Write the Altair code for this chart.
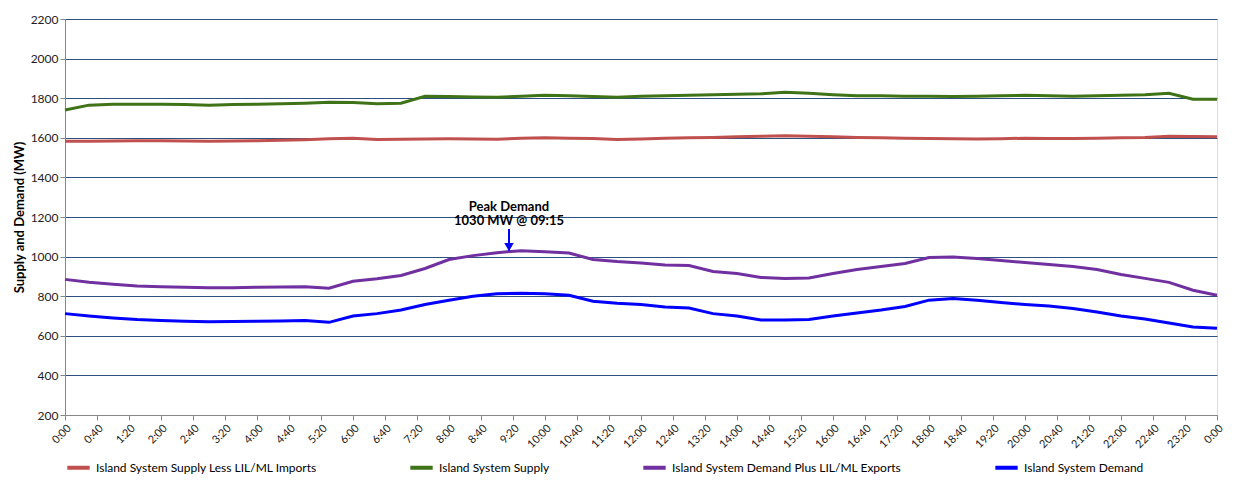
import altair as alt
import pandas as pd

minutes = list(range(0, 1441, 30))

demand = [712, 700, 690, 682, 677, 673, 671, 672, 674, 675, 677, 668, 700, 712, 730, 758,
          780, 800, 812, 815, 812, 805, 775, 765, 758, 745, 740, 712, 700, 680, 680, 682,
          700, 715, 730, 748, 780, 788, 780, 768, 758, 750, 738, 720, 700, 685, 665, 645, 638]
demand_exports = [885, 870, 860, 852, 848, 845, 843, 843, 845, 846, 848, 840, 875, 888, 905, 940,
                  985, 1005, 1020, 1030, 1025, 1018, 985, 975, 968, 958, 955, 925, 915, 895, 890, 892,
                  915, 935, 950, 965, 995, 998, 990, 980, 970, 960, 950, 935, 910, 890, 870, 830, 805]
supply_less = [1582, 1583, 1584, 1585, 1585, 1584, 1583, 1584, 1585, 1587, 1590, 1595, 1598, 1592, 1593, 1594,
               1595, 1594, 1593, 1598, 1600, 1598, 1596, 1592, 1594, 1598, 1600, 1602, 1605, 1608, 1610, 1608,
               1605, 1602, 1600, 1598, 1597, 1595, 1594, 1595, 1598, 1597, 1596, 1598, 1600, 1602, 1608, 1606, 1605]
supply = [1740, 1765, 1770, 1770, 1770, 1768, 1765, 1768, 1770, 1772, 1775, 1780, 1778, 1772, 1775, 1810,
          1808, 1806, 1805, 1810, 1815, 1812, 1808, 1805, 1810, 1812, 1815, 1818, 1820, 1822, 1830, 1825,
          1818, 1812, 1812, 1810, 1810, 1808, 1810, 1812, 1815, 1812, 1810, 1812, 1815, 1818, 1825, 1795, 1795]

series = ["Island System Supply Less LIL/ML Imports", "Island System Supply",
          "Island System Demand Plus LIL/ML Exports", "Island System Demand"]
colors = ["#c0504d", "#3f7317", "#7030a0", "#0000ff"]
tick_values = list(range(0, 1441, 40))
y_values = list(range(200, 2201, 200))

rows = []
for name, vals in zip(series, [supply_less, supply, demand_exports, demand]):
    for m, v in zip(minutes, vals):
        rows.append({"min": m, "mw": v, "series": name})
df = pd.DataFrame(rows)

x = alt.X("min:Q", scale=alt.Scale(domain=[0, 1440], nice=False), title=None,
          axis=alt.Axis(values=tick_values, tickCount=len(tick_values), labelAngle=-45, grid=False,
                        labelFontSize=11, labelOverlap=False, labelColor="#222",
                        domainColor="#888", tickColor="#888",
                        labelExpr="floor((datum.value % 1440)/60) + ':' + (datum.value % 60 < 10 ? '0' : '') + (datum.value % 60)"))

lines = alt.Chart(df).mark_line(strokeWidth=3).encode(
    x=x,
    y=alt.Y("mw:Q", scale=alt.Scale(domain=[200, 2200], nice=False),
            title="Supply and Demand (MW)",
            axis=alt.Axis(values=y_values, tickCount=len(y_values), gridColor="#2f4f7f", gridWidth=1,
                          labelOverlap=False, format="d",
                          titleFontSize=13, titleFontWeight="bold", labelFontSize=12,
                          labelColor="#222", domainColor="#888", tickColor="#888", titleColor="#000")),
    color=alt.Color("series:N", scale=alt.Scale(domain=series, range=colors), sort=series,
                    legend=alt.Legend(orient="bottom", title=None, columns=4, symbolType="stroke",
                                      symbolStrokeWidth=4, symbolSize=500, labelFontSize=12,
                                      labelLimit=400, columnPadding=85, offset=4)),
)

peak_min = [555]
peak_mw = [1030]
ann = pd.DataFrame({"min": peak_min, "mw": peak_mw})
arrow = alt.Chart(ann).mark_rule(color="#0000ff", strokeWidth=2).encode(
    x="min:Q", y=alt.Y("mw:Q"), y2=alt.datum(1140))
head = alt.Chart(ann).mark_point(shape="triangle-down", filled=True, color="#0000ff", size=90,
                                 opacity=1).encode(x="min:Q", y=alt.datum(1048))
txt = alt.Chart(pd.DataFrame({"min": [555, 555], "mw": [1250, 1180],
                              "t": ["Peak Demand", "1030 MW @ 09:15"]})).mark_text(
    fontWeight="bold", fontSize=13, baseline="middle").encode(x="min:Q", y="mw:Q", text="t:N")

chart = alt.layer(lines, arrow, head, txt).properties(
    width=1222, height=473, autosize=alt.AutoSizeParams(type="fit", contains="padding")
).configure_view(stroke="#888").configure(font="Lato").configure_axis(labelOverlap=False)

chart.save("out.html", embed_options={"renderer": "svg", "actions": False})
